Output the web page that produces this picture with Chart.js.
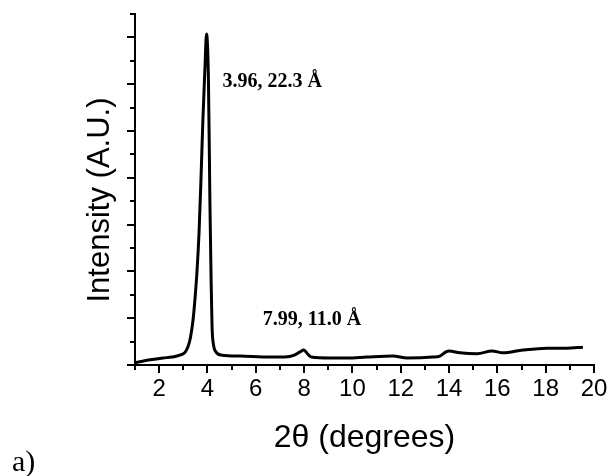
<!DOCTYPE html>
<html>
<head>
<meta charset="utf-8">
<script src="https://cdn.jsdelivr.net/npm/chart.js@4/dist/chart.umd.min.js"></script>
<style>
  html, body { margin: 0; padding: 0; background: #fff; }
  #wrap { width: 613px; height: 476px; }
</style>
</head>
<body>
<div id="wrap"><canvas id="xrd"></canvas></div>
<script>
// XRD pattern, intensity vs 2-theta
const twoTheta = [1.0, 1.62, 2.16, 2.53, 2.86, 3.07, 3.20, 3.30, 3.40, 3.48,
  3.57, 3.65, 3.73, 3.81, 3.90, 3.96, 4.04, 4.10, 4.15, 4.19,
  4.25, 4.35, 4.60, 5.35, 6.59, 7.20, 7.60, 7.83, 7.99, 8.14,
  8.30, 9.07, 9.78, 10.60, 11.68, 12.26, 13.33, 13.62, 13.87, 14.00,
  14.45, 15.16, 15.78, 16.23, 17.06, 18.05, 18.88, 19.54];
const intensity = [0.05, 0.11, 0.15, 0.17, 0.21, 0.27, 0.40, 0.60, 0.95, 1.39,
  2.03, 2.82, 3.95, 5.23, 6.41, 7.07, 6.09, 3.53, 1.82, 0.81,
  0.43, 0.28, 0.21, 0.19, 0.17, 0.17, 0.21, 0.28, 0.32, 0.24,
  0.17, 0.15, 0.15, 0.17, 0.19, 0.15, 0.17, 0.19, 0.28, 0.30,
  0.26, 0.24, 0.30, 0.26, 0.32, 0.36, 0.36, 0.38];
const xTicks = [2, 4, 6, 8, 10, 12, 14, 16, 18, 20];
const peakLabels = ['3.96, 22.3 Å', '7.99, 11.0 Å'];

const sans = "'Liberation Sans', Arial, sans-serif";
const serif = "'Liberation Serif', 'Times New Roman', serif";

// tick marks: long on major steps, short in between
const tickMarks = {
  id: 'tickMarks',
  afterDraw(chart) {
    const ctx = chart.ctx;
    const xs = chart.scales.x, ys = chart.scales.y;
    ctx.save();
    ctx.strokeStyle = '#000';
    ctx.lineWidth = 2;
    ctx.beginPath();
    for (let v = xs.min; v <= xs.max; v += 1) {
      const px = Math.round(xs.getPixelForValue(v));
      const len = xTicks.includes(v) ? 8 : 5;
      ctx.moveTo(px, xs.top);
      ctx.lineTo(px, xs.top + len);
    }
    for (let v = ys.min; v <= ys.max + 0.001; v += 0.5) {
      const py = Math.round(ys.getPixelForValue(v));
      const len = Number.isInteger(v) ? 8 : 5;
      ctx.moveTo(ys.right, py);
      ctx.lineTo(ys.right - len, py);
    }
    ctx.stroke();

    // y title, sits a little below the axis middle
    ctx.fillStyle = '#000';
    ctx.font = '31px ' + sans;
    ctx.textAlign = 'center';
    ctx.textBaseline = 'middle';
    ctx.translate(100, 200);
    ctx.rotate(-Math.PI / 2);
    ctx.fillText('Intensity (A.U.)', 0, 0);
    ctx.restore();

    // peak annotations
    ctx.save();
    ctx.fillStyle = '#000';
    ctx.font = 'bold 20px ' + serif;
    ctx.textAlign = 'left';
    ctx.textBaseline = 'alphabetic';
    ctx.fillText(peakLabels[0], xs.getPixelForValue(3.96) + 16, 87);
    ctx.fillText(peakLabels[1], xs.getPixelForValue(7.99) - 41, 325);

    // panel letter
    ctx.font = '30px ' + serif;
    ctx.fillText('a)', 12, 471);
    ctx.restore();
  }
};

new Chart(document.getElementById('xrd'), {
  type: 'line',
  data: {
    datasets: [{
      data: twoTheta.map((t, i) => ({ x: t, y: intensity[i] })),
      borderColor: '#000',
      borderWidth: 3,
      pointRadius: 0,
      fill: false,
      cubicInterpolationMode: 'monotone'
    }]
  },
  options: {
    responsive: true,
    maintainAspectRatio: false,
    animation: false,
    layout: { padding: { left: 0, right: 19, top: 14, bottom: 0 } },
    plugins: {
      legend: { display: false },
      tooltip: { enabled: false }
    },
    scales: {
      x: {
        type: 'linear',
        min: 1,
        max: 20,
        afterFit: (s) => { s.height = 111; },
        border: { color: '#000', width: 2 },
        grid: { drawOnChartArea: false, drawTicks: true, tickLength: 8, tickColor: 'rgba(0,0,0,0)' },
        ticks: {
          stepSize: 1,
          autoSkip: false,
          maxRotation: 0,
          padding: 2,
          color: '#000',
          font: { family: sans, size: 24 },
          callback: (v) => xTicks.includes(v) ? v : ''
        },
        title: {
          display: true,
          text: '2θ (degrees)',
          color: '#000',
          font: { family: sans, size: 32 },
          padding: { top: 0, bottom: 19 }
        }
      },
      y: {
        min: 0,
        max: 7.5,
        afterFit: (s) => { s.width = 135; },
        border: { color: '#000', width: 2 },
        grid: { display: false },
        ticks: { display: false, stepSize: 0.5 }
      }
    }
  },
  plugins: [tickMarks]
});
</script>
</body>
</html>
